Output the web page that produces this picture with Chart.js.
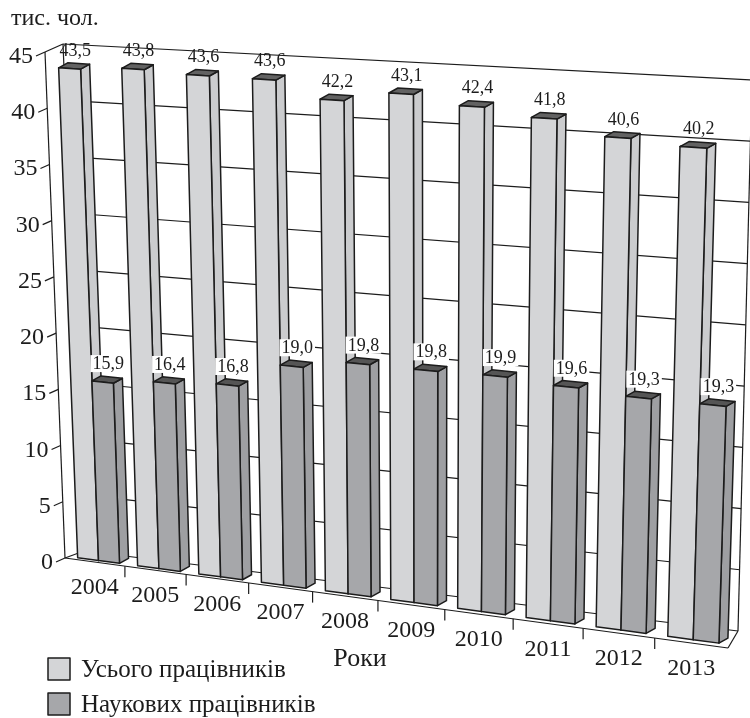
<!DOCTYPE html>
<html lang="uk">
<head>
<meta charset="UTF-8" />
<title>Чисельність працівників, 2004–2013</title>
<script src="https://cdn.jsdelivr.net/npm/chart.js"></script>
<style>
  html, body { margin: 0; padding: 0; background: #fff; }
  canvas { display: block; }
</style>
</head>
<body>
<canvas id="chart" width="750" height="718"></canvas>
<script>
const years = ['2004', '2005', '2006', '2007', '2008', '2009', '2010', '2011', '2012', '2013'];
const totalStaff = [43.5, 43.8, 43.6, 43.6, 42.2, 43.1, 42.4, 41.8, 40.6, 40.2];
const researchStaff = [15.9, 16.4, 16.8, 19.0, 19.8, 19.8, 19.9, 19.6, 19.3, 19.3];
const valueTicks = [0, 5, 10, 15, 20, 25, 30, 35, 40, 45];
const seriesNames = ['Усього працівників', 'Наукових працівників'];
const unitLabel = 'тис. чол.';
const axisTitle = 'Роки';

// corners of the 3d box on screen: l/r = left/right, 0 = floor, 1 = top of scale
const front = { l0: [65, 558], l1: [45, 52], r0: [728, 648], r1: [746, 95] };
const back = { l0: [84, 551], l1: [63, 44], r0: [738, 631], r1: [752, 80] };
const barDepth = 0.2;      // bars stand a bit behind the front edge
const barOffset = [9, -5]; // depth of a bar on screen
const skew = -0.106;       // right side is nearer, so categories widen to the right

const faces = [
  { front: '#d4d5d7', side: '#cbccce', top: '#626262' },
  { front: '#a6a7aa', side: '#9e9fa2', top: '#555555' }
];
const ink = '#1c1c1c';
const serif = '"Liberation Serif", "DejaVu Serif", serif';

function lerp(a, b, k) { return [a[0] + (b[0] - a[0]) * k, a[1] + (b[1] - a[1]) * k]; }
function onPlane(pl, s, f) { return lerp(lerp(pl.l0, pl.l1, f), lerp(pl.r0, pl.r1, f), s); }
function project(t, f, w) {
  const s = t * (1 + skew) / (1 + skew * t);
  return lerp(onPlane(front, s, f), onPlane(back, s, f), w);
}
function shift(p) { return [p[0] + barOffset[0], p[1] + barOffset[1]]; }

function line(ctx, a, b) {
  ctx.beginPath();
  ctx.moveTo(a[0], a[1]);
  ctx.lineTo(b[0], b[1]);
  ctx.stroke();
}
function poly(ctx, pts, fill) {
  ctx.beginPath();
  ctx.moveTo(pts[0][0], pts[0][1]);
  pts.slice(1).forEach(p => ctx.lineTo(p[0], p[1]));
  ctx.closePath();
  ctx.fillStyle = fill;
  ctx.fill();
  ctx.stroke();
}
const fmt = v => v.toFixed(1).replace('.', ',');

const box3d = {
  id: 'box3d',
  afterDraw(chart) {
    const ctx = chart.ctx, area = chart.chartArea;
    const xs = chart.scales.x, ys = chart.scales.y;
    const tOf = px => (px - area.left) / (area.right - area.left);
    const fOf = py => (area.bottom - py) / (area.bottom - area.top);
    const n = chart.data.labels.length;

    ctx.save();
    ctx.strokeStyle = ink;
    ctx.lineJoin = 'round';

    // back wall grid
    ctx.lineWidth = 1.2;
    valueTicks.forEach(v => {
      const f = fOf(ys.getPixelForValue(v));
      line(ctx, project(0, f, 1), project(1, f, 1));
    });
    line(ctx, project(0, 0, 1), project(0, 1, 1));
    line(ctx, project(1, 0, 1), project(1, 1, 1));

    // left wall and floor edges
    line(ctx, project(0, 0, 0), project(0, 1, 0));
    line(ctx, project(0, 1, 0), project(0, 1, 1));
    line(ctx, project(0, 0, 0), project(0, 0, 1));
    line(ctx, project(0, 0, 0), project(1, 0, 0));
    line(ctx, project(1, 0, 0), project(1, 0, 1));

    // value axis ticks and labels
    ctx.fillStyle = ink;
    ctx.font = '24px ' + serif;
    ctx.textAlign = 'right';
    ctx.textBaseline = 'alphabetic';
    valueTicks.forEach(v => {
      const p = project(0, fOf(ys.getPixelForValue(v)), 0);
      const e = [p[0] - 9, p[1] + 4];
      line(ctx, p, e);
      ctx.fillText(String(v), e[0] - 3, e[1] + 7);
    });

    // category ticks and year labels on the front edge
    ctx.textAlign = 'center';
    for (let i = 0; i < n; i++) {
      if (i > 0) {
        const b = project(tOf((xs.getPixelForValue(i - 1) + xs.getPixelForValue(i)) / 2), 0, 0);
        line(ctx, b, [b[0], b[1] + 11]);
      }
      const c = project(tOf(xs.getPixelForValue(i)), 0, 0);
      ctx.fillText(chart.data.labels[i], c[0], c[1] + 32);
    }

    // bars, left to right so nearer ones cover the ones behind
    ctx.lineWidth = 1.5;
    const tops = [];
    for (let i = 0; i < n; i++) {
      chart.data.datasets.forEach((ds, d) => {
        const el = chart.getDatasetMeta(d).data[i];
        const tl = tOf(el.x - el.width / 2), tr = tOf(el.x + el.width / 2);
        const fb = fOf(el.base), ft = fOf(el.y);
        const fl0 = project(tl, fb, barDepth), fr0 = project(tr, fb, barDepth);
        const fr1 = project(tr, ft, barDepth), fl1 = project(tl, ft, barDepth);
        const br0 = shift(fr0), br1 = shift(fr1), bl1 = shift(fl1);
        const col = faces[d];
        poly(ctx, [fr0, fr1, br1, br0], col.side);
        poly(ctx, [fl1, fr1, br1, bl1], col.top);
        poly(ctx, [fl0, fr0, fr1, fl1], col.front);
        tops.push({ d, v: ds.data[i], x: (fl1[0] + br1[0]) / 2 + 1, y: (bl1[1] + br1[1]) / 2 });
      });
    }

    // value labels
    ctx.font = '18px ' + serif;
    ctx.textAlign = 'center';
    tops.forEach(tp => {
      const txt = fmt(tp.v);
      const y = tp.y - 8;
      if (tp.d === 1) {
        const w = ctx.measureText(txt).width;
        ctx.fillStyle = '#fff';
        ctx.fillRect(tp.x - w / 2 - 2, y - 14, w + 4, 17);
      }
      ctx.fillStyle = ink;
      ctx.fillText(txt, tp.x, y);
    });

    // unit, axis title, legend
    ctx.textAlign = 'left';
    ctx.font = '24px ' + serif;
    ctx.fillText(unitLabel, 11, 25);
    ctx.font = '26px ' + serif;
    ctx.textAlign = 'center';
    ctx.fillText(axisTitle, 360, 666);
    ctx.textAlign = 'left';
    ctx.font = '25px ' + serif;
    ctx.lineWidth = 1.5;
    chart.data.datasets.forEach((ds, d) => {
      const y = 658 + d * 35;
      ctx.fillStyle = faces[d].front;
      ctx.fillRect(48, y, 22, 22);
      ctx.strokeRect(48, y, 22, 22);
      ctx.fillStyle = ink;
      ctx.fillText(ds.label, 81, y + 19);
    });
    ctx.restore();
  }
};

new Chart(document.getElementById('chart'), {
  type: 'bar',
  data: {
    labels: years,
    datasets: [
      { label: seriesNames[0], data: totalStaff },
      { label: seriesNames[1], data: researchStaff }
    ].map(ds => Object.assign(ds, {
      backgroundColor: 'rgba(0,0,0,0)',
      borderWidth: 0,
      categoryPercentage: 0.7,
      barPercentage: 1.0
    }))
  },
  options: {
    responsive: false,
    animation: false,
    devicePixelRatio: 1,
    layout: { padding: 0 },
    events: [],
    plugins: {
      legend: { display: false },
      tooltip: { enabled: false }
    },
    scales: {
      x: { display: false },
      y: { display: false, min: 0, max: 45 }
    }
  },
  plugins: [box3d]
});
</script>
</body>
</html>
